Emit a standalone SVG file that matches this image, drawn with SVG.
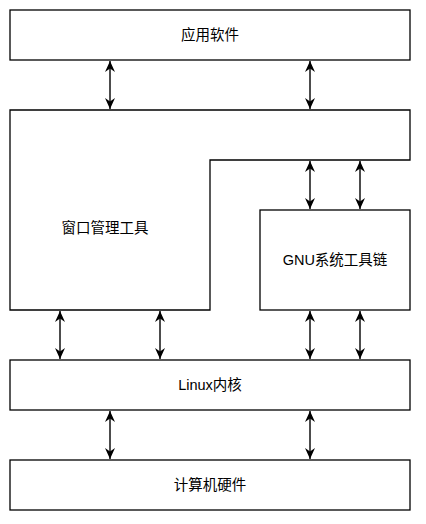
<svg xmlns="http://www.w3.org/2000/svg" width="426" height="524" viewBox="0 0 426 524">
<defs>
<style>
.box{fill:#fff;stroke:#000;stroke-width:1.3}
.lbl{font-family:"Liberation Sans","Noto Sans CJK SC",sans-serif;font-size:14.5px;fill:#000;text-anchor:middle;dominant-baseline:central}
.conn{stroke:#000;stroke-width:1.4;fill:none;marker-start:url(#arr);marker-end:url(#arr)}
</style>
<marker id="arr" viewBox="0 0 11 11" refX="11" refY="5.5" markerWidth="11" markerHeight="11" markerUnits="userSpaceOnUse" orient="auto-start-reverse">
<path d="M0,0.5 L11,5.5 L0,10.5 L3.5,5.5 z" fill="#000"/>
</marker>
</defs>
<rect width="426" height="524" fill="#fff"/>
<g id="app">
<rect class="box" x="10" y="10" width="400" height="50"/>
<text class="lbl" x="210" y="35">应用软件</text>
</g>
<g id="wm">
<path class="box" d="M10,110 H410 V160 H210 V310 H10 Z"/>
<text class="lbl" x="105" y="228">窗口管理工具</text>
</g>
<g id="gnu">
<rect class="box" x="260" y="210" width="150" height="100"/>
<text class="lbl" x="335" y="260">GNU系统工具链</text>
</g>
<g id="kernel">
<rect class="box" x="10" y="360" width="400" height="50"/>
<text class="lbl" x="210" y="385">Linux内核</text>
</g>
<g id="hw">
<rect class="box" x="10" y="460" width="400" height="50"/>
<text class="lbl" x="210" y="485">计算机硬件</text>
</g>
<g id="connectors">
<path class="conn" d="M110,61 V109"/>
<path class="conn" d="M310,61 V109"/>
<path class="conn" d="M310,161 V209"/>
<path class="conn" d="M360,161 V209"/>
<path class="conn" d="M60,311 V359"/>
<path class="conn" d="M160,311 V359"/>
<path class="conn" d="M310,311 V359"/>
<path class="conn" d="M360,311 V359"/>
<path class="conn" d="M110,411 V459"/>
<path class="conn" d="M310,411 V459"/>
</g>
</svg>
